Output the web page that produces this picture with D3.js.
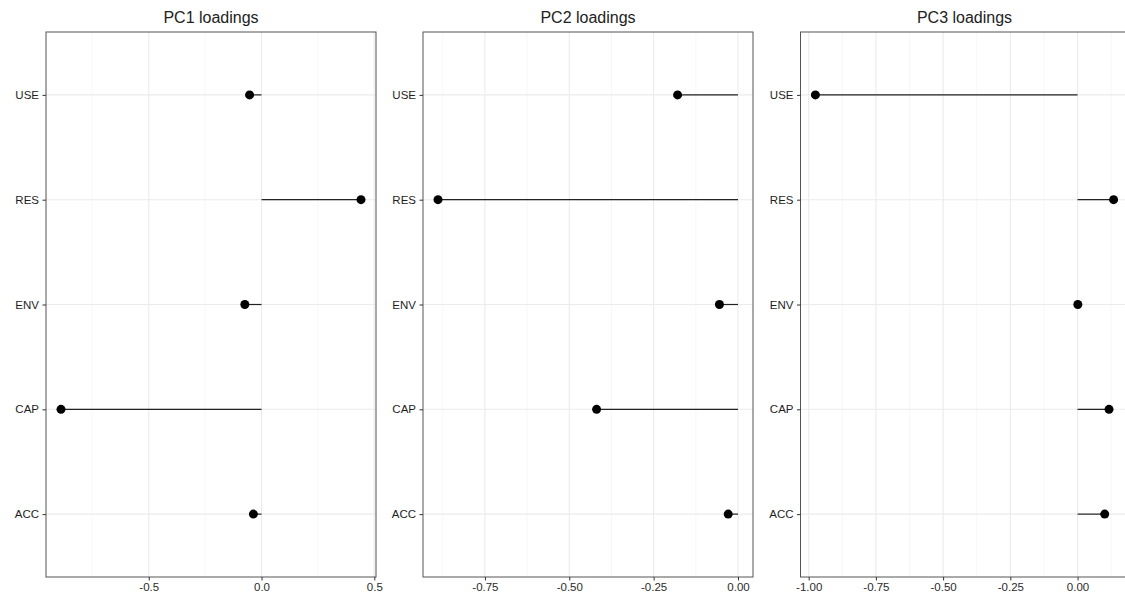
<!DOCTYPE html>
<html>
<head>
<meta charset="utf-8">
<script src="https://cdn.jsdelivr.net/npm/d3@7"></script>
<style>
  body { margin: 0; background: #fff; }
  svg { display: block; font-family: "Liberation Sans", Arial, sans-serif; }
</style>
</head>
<body>
<div id="chart"></div>
<script>
// variables, bottom to top
const categories = ["ACC", "CAP", "ENV", "RES", "USE"]
const titles = ["PC1 loadings", "PC2 loadings", "PC3 loadings"]

const pc1 = [-0.036, -0.889, -0.074, 0.441, -0.053]
const pc2 = [-0.029, -0.419, -0.055, -0.889, -0.179]
const pc3 = [0.101, 0.117, 0.001, 0.134, -0.975]

const ticks1 = [-0.5, 0, 0.5]
const ticks2 = [-0.75, -0.5, -0.25, 0]
const ticks3 = [-1, -0.75, -0.5, -0.25, 0]

// plain hyphen for negatives, like R
const loc = d3.formatLocale({decimal: ".", thousands: ",", grouping: [3], currency: ["", ""], minus: "-"})

const panels = [
  {title: titles[0], values: pc1, ticks: ticks1, fmt: loc.format(".1f")},
  {title: titles[1], values: pc2, ticks: ticks2, fmt: loc.format(".2f")},
  {title: titles[2], values: pc3, ticks: ticks3, fmt: loc.format(".2f")}
]

const W = 1125, H = 598
const panelLeft = [46, 423, 800.5]
const panelWidth = [330, 330, 328]
const panelTop = 32, panelBottom = 577

const svg = d3.select("#chart").append("svg")
  .attr("width", W)
  .attr("height", H)

// y is shared: categories as points, ggplot style 0.6 padding
const y = d3.scalePoint()
  .domain(categories.slice().reverse())
  .range([panelTop, panelBottom])
  .padding(0.6)

panels.forEach((p, i) => {
  const x0 = panelLeft[i], x1 = x0 + panelWidth[i]

  // domain includes 0 (segment end), expanded 5% each side
  const ext = d3.extent(p.values.concat([0]))
  const pad = (ext[1] - ext[0]) * 0.05
  const x = d3.scaleLinear()
    .domain([ext[0] - pad, ext[1] + pad])
    .range([x0, x1])

  const g = svg.append("g")

  // minor grid at midpoints between major ticks
  const step = p.ticks[1] - p.ticks[0]
  const minor = d3.range(p.ticks[0] - step / 2, p.ticks[p.ticks.length - 1] + step, step)
    .filter(v => v >= x.domain()[0] && v <= x.domain()[1])

  g.append("g").selectAll("line")
    .data(minor)
    .join("line")
    .attr("x1", d => x(d)).attr("x2", d => x(d))
    .attr("y1", panelTop).attr("y2", panelBottom)
    .attr("stroke", "#f2f2f2")
    .attr("stroke-width", 0.6)

  g.append("g").selectAll("line")
    .data(p.ticks)
    .join("line")
    .attr("x1", d => x(d)).attr("x2", d => x(d))
    .attr("y1", panelTop).attr("y2", panelBottom)
    .attr("stroke", "#ebebeb")
    .attr("stroke-width", 1.1)

  g.append("g").selectAll("line")
    .data(categories)
    .join("line")
    .attr("x1", x0).attr("x2", x1)
    .attr("y1", d => y(d)).attr("y2", d => y(d))
    .attr("stroke", "#ebebeb")
    .attr("stroke-width", 1.1)

  // segments from 0 to value
  g.append("g").selectAll("line")
    .data(categories)
    .join("line")
    .attr("x1", x(0))
    .attr("x2", (d, j) => x(p.values[j]))
    .attr("y1", d => y(d)).attr("y2", d => y(d))
    .attr("stroke", "#222")
    .attr("stroke-width", 1.2)

  g.append("g").selectAll("circle")
    .data(categories)
    .join("circle")
    .attr("cx", (d, j) => x(p.values[j]))
    .attr("cy", d => y(d))
    .attr("r", 4.5)
    .attr("fill", "#000")

  // border
  g.append("rect")
    .attr("x", x0).attr("y", panelTop)
    .attr("width", x1 - x0).attr("height", panelBottom - panelTop)
    .attr("fill", "none")
    .attr("stroke", "#555")
    .attr("stroke-width", 1)

  // axes
  const ax = g.append("g")
    .attr("transform", "translate(0," + panelBottom + ")")
    .call(d3.axisBottom(x).tickValues(p.ticks).tickFormat(p.fmt).tickSize(3.5).tickPadding(2.5))
  ax.select(".domain").remove()
  ax.selectAll("line").attr("stroke", "#333")
  ax.selectAll("text").attr("fill", "#2b2b2b").style("font-size", "11.5px")

  const ay = g.append("g")
    .attr("transform", "translate(" + x0 + ",0)")
    .call(d3.axisLeft(y).tickSize(3.5).tickPadding(3.5))
  ay.select(".domain").remove()
  ay.selectAll("line").attr("stroke", "#333")
  ay.selectAll("text").attr("fill", "#1e1e1e").style("font-size", "11.5px")

  g.append("text")
    .attr("x", (x0 + x1) / 2)
    .attr("y", 23)
    .attr("text-anchor", "middle")
    .attr("fill", "#222")
    .style("font-size", "16px")
    .text(p.title)
})
</script>
</body>
</html>
